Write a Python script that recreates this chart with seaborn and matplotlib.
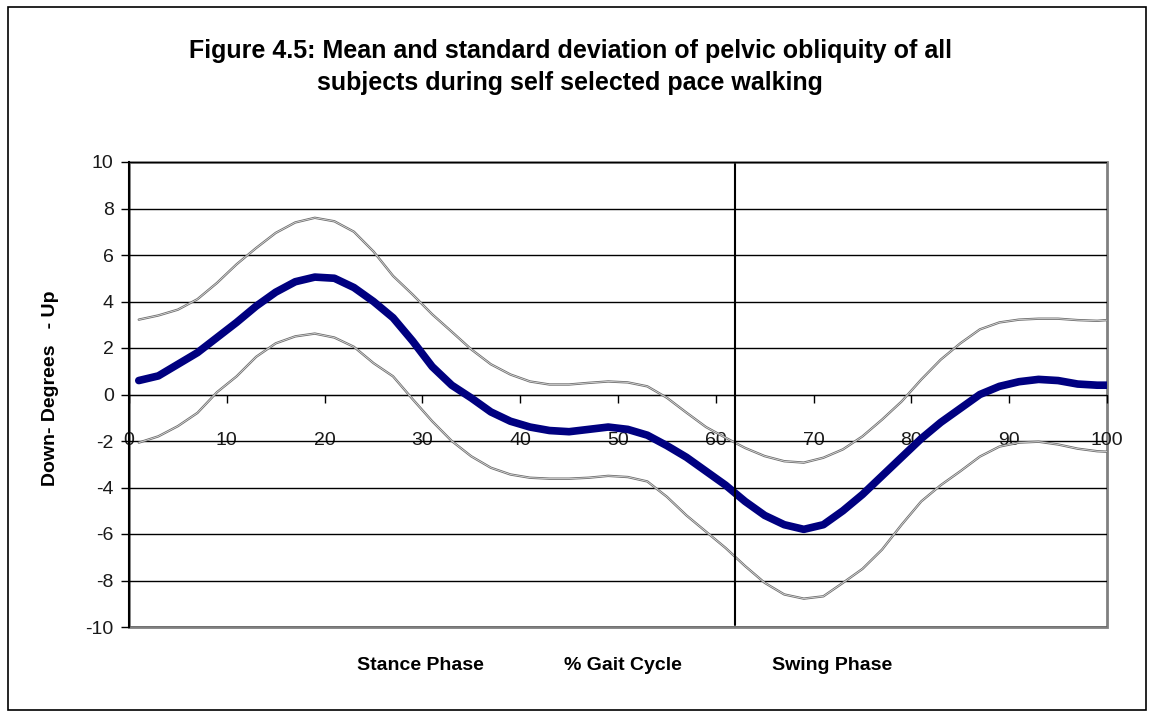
import numpy as np
import pandas as pd
import seaborn as sns
import matplotlib.pyplot as plt
from matplotlib.patches import Rectangle

# % gait cycle and pelvic obliquity (degrees)
gait_pct = [1, 3, 5, 7, 9, 11, 13, 15, 17, 19, 21, 23, 25, 27, 29, 31, 33, 35,
            37, 39, 41, 43, 45, 47, 49, 51, 53, 55, 57, 59, 61, 63, 65, 67, 69,
            71, 73, 75, 77, 79, 81, 83, 85, 87, 89, 91, 93, 95, 97, 99, 100]
mean_deg = [0.6, 0.8, 1.3, 1.8, 2.45, 3.1, 3.8, 4.4, 4.85, 5.05, 5.0, 4.6, 4.0,
            3.3, 2.3, 1.2, 0.4, -0.15, -0.75, -1.15, -1.4, -1.55, -1.6,
            -1.5, -1.4, -1.5, -1.75, -2.2, -2.7, -3.3, -3.9, -4.6, -5.2, -5.6,
            -5.8, -5.6, -5.0, -4.3, -3.5, -2.7, -1.9, -1.2, -0.6, 0.0, 0.35,
            0.55, 0.65, 0.6, 0.45, 0.4, 0.4]
upper_deg = [3.22, 3.4, 3.65, 4.1, 4.8, 5.6, 6.3, 6.95, 7.4, 7.6, 7.45, 7.0,
             6.15, 5.1, 4.3, 3.45, 2.7, 1.94, 1.3, 0.86, 0.56, 0.43, 0.43, 0.5,
             0.56, 0.52, 0.35, -0.14, -0.78, -1.4, -1.86, -2.3, -2.65, -2.87,
             -2.93, -2.72, -2.36, -1.8, -1.08, -0.3, 0.64, 1.5, 2.2, 2.8, 3.1,
             3.22, 3.26, 3.26, 3.2, 3.17, 3.2]
lower_deg = [-2.07, -1.8, -1.36, -0.79, 0.1, 0.78, 1.62, 2.2, 2.5, 2.62, 2.45,
             2.05, 1.35, 0.78, -0.2, -1.15, -2.0, -2.66, -3.15, -3.44, -3.58,
             -3.62, -3.62, -3.58, -3.5, -3.55, -3.74, -4.4, -5.2, -5.9, -6.6,
             -7.38, -8.1, -8.6, -8.78, -8.68, -8.1, -7.5, -6.67, -5.6, -4.6,
             -3.9, -3.3, -2.67, -2.24, -2.07, -2.03, -2.15, -2.33, -2.44, -2.46]
stance_end = 62

df = pd.DataFrame({"pct": gait_pct, "mean": mean_deg,
                   "upper": upper_deg, "lower": lower_deg})

sns.set_style("white")
plt.rcParams["font.family"] = ["Liberation Sans", "DejaVu Sans"]
plt.rcParams["axes.unicode_minus"] = False
plt.rcParams["text.color"] = "black"

fig = plt.figure(figsize=(11.52, 7.15), dpi=100)
W, H = 1152, 715
ax = fig.add_axes([129 / W, 1 - 627 / H, (1107 - 129) / W, (627 - 162) / H])

# horizontal grid
for y in range(-10, 11, 2):
    ax.axhline(y, color="black", lw=1.0, zorder=1)

# SD curves (double line look)
for col in ["upper", "lower"]:
    sns.lineplot(data=df, x="pct", y=col, ax=ax, color="#6e6e6e", lw=1.7,
                 sort=False, estimator=None, zorder=3,
                 solid_joinstyle="round", solid_capstyle="round")
    sns.lineplot(data=df, x="pct", y=col, ax=ax, color="#e8e8e8", lw=0.5,
                 sort=False, estimator=None, zorder=3,
                 solid_joinstyle="round")

sns.lineplot(data=df, x="pct", y="mean", ax=ax, color="#000080", lw=5.5,
             sort=False, estimator=None, zorder=4,
             solid_joinstyle="round", solid_capstyle="round")

ax.axvline(stance_end, ymin=0.005, ymax=0.995, color="black", lw=1.5, zorder=5)

ax.set_xlim(0, 100)
ax.set_ylim(-10, 10)
ax.set_yticks(range(-10, 11, 2))
ax.set_xticks(range(0, 101, 10))
ax.set_xlabel("")
ax.set_ylabel("")

# x axis sits at zero
ax.spines["bottom"].set_position(("data", 0))
ax.spines["bottom"].set_color("black")
ax.spines["left"].set_color("black")
ax.spines["left"].set_linewidth(1.5)
ax.spines["top"].set_visible(False)
ax.spines["right"].set_visible(False)
ax.add_patch(Rectangle((0, 0), 1, 1, transform=ax.transAxes, fill=False,
                       ec="#808080", lw=2, clip_on=False, zorder=0))

ax.tick_params(axis="x", direction="out", length=6, width=1, pad=21,
               labelsize=14, colors="black", labelcolor="#1a1a1a", bottom=True)
ax.tick_params(axis="y", direction="out", length=6, width=1, pad=5,
               labelsize=14, colors="black", labelcolor="#1a1a1a", left=True)

fig.text(0.495, 1 - 67 / H, "Figure 4.5: Mean and standard deviation of pelvic obliquity of all\n"
         "subjects during self selected pace walking",
         ha="center", va="center", fontsize=18, fontweight="bold",
         linespacing=1.45)

fig.text(51 / W, 1 - 388 / H, "Down- Degrees   - Up", rotation=90,
         ha="center", va="center", fontsize=14, fontweight="bold")

for label, xc in [("Stance Phase", 420), ("% Gait Cycle", 623), ("Swing Phase", 832)]:
    fig.text(xc / W, 1 - 665 / H, label, ha="center", va="center",
             fontsize=14, fontweight="bold")

fig.add_artist(Rectangle((8 / W, 1 - 710 / H), (1146 - 8) / W, (710 - 7) / H,
                         transform=fig.transFigure, fill=False, ec="black", lw=1.2))

fig.savefig("out.png", dpi=100, facecolor="white")
